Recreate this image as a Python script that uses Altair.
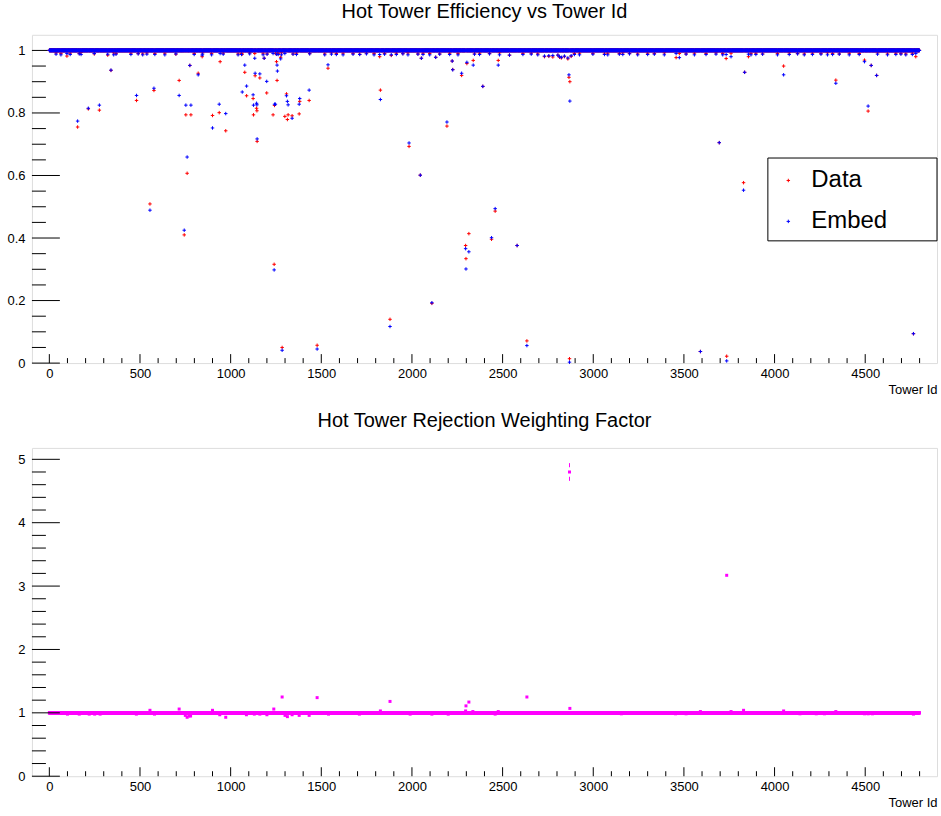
import altair as alt
import pandas as pd

alt.data_transformers.disable_max_rows()

FONT = "Liberation Sans"
N_TOWERS = 4800

# Towers whose efficiency is visibly below 1 (tower id, Data, Embed)
OUT_TOWER = [156, 215, 276, 340, 481, 555, 577, 716, 744, 753,
             760, 775, 781, 821, 843, 900, 937, 942, 973, 1064,
             1078, 1088, 1124, 1126, 1135, 1143, 1145, 1146, 1161, 1185,
             1199, 1234, 1240, 1242, 1247, 1253, 1256, 1258, 1276, 1284,
             1299, 1308, 1313, 1317, 1339, 1378, 1381, 1433, 1477, 1537,
             1826, 1879, 1984, 2046, 2052, 2110, 2131, 2193, 2222, 2225,
             2274, 2296, 2298, 2303, 2314, 2338, 2391, 2439, 2459, 2476,
             2538, 2580, 2634, 2866, 2869, 2871, 3591, 3695, 3736, 3829,
             3835, 4050, 4338, 4496, 4516, 4533, 4563, 4766, 4779]
OUT_DATA = [0.755, 0.813, 0.809, 0.936, 0.840, 0.509, 0.872, 0.904, 0.410, 0.794,
            0.607, 0.952, 0.794, 0.927, 0.980, 0.792, 0.801, 0.964, 0.743, 0.988,
            0.930, 0.855, 0.846, 0.794, 0.919, 0.815, 0.807, 0.709, 0.912, 0.975,
            0.864, 0.794, 0.316, 0.824, 0.990, 0.964, 0.904, 0.990, 0.978, 0.050,
            0.789, 0.861, 0.779, 0.794, 0.791, 0.797, 0.837, 0.840, 0.057, 0.943,
            0.873, 0.140, 0.693, 0.601, 0.975, 0.191, 0.978, 0.758, 0.966, 0.939,
            0.920, 0.376, 0.334, 0.958, 0.414, 0.968, 0.885, 0.396, 0.486, 0.968,
            0.985, 0.376, 0.071, 0.914, 0.014, 0.900, 0.037, 0.705, 0.022, 0.577,
            0.930, 0.950, 0.905, 0.969, 0.806, 0.952, 0.920, 0.094, 0.980]
OUT_EMBED = [0.774, 0.815, 0.825, 0.937, 0.856, 0.489, 0.879, 0.856, 0.425, 0.825,
             0.659, 0.952, 0.825, 0.922, 0.985, 0.752, 0.828, 0.990, 0.798, 0.867,
             0.953, 0.886, 0.858, 0.825, 0.927, 0.831, 0.826, 0.717, 0.925, 0.975,
             0.901, 0.990, 0.298, 0.828, 0.828, 0.988, 0.953, 0.934, 0.973, 0.041,
             0.990, 0.855, 0.837, 0.826, 0.783, 0.828, 0.846, 0.873, 0.045, 0.954,
             0.843, 0.117, 0.704, 0.601, 0.975, 0.193, 0.978, 0.771, 0.966, 0.938,
             0.927, 0.366, 0.301, 0.962, 0.356, 0.953, 0.885, 0.401, 0.494, 0.953,
             0.985, 0.376, 0.056, 0.922, 0.003, 0.838, 0.037, 0.705, 0.007, 0.553,
             0.930, 0.922, 0.895, 0.964, 0.822, 0.952, 0.920, 0.094, 0.990]

# Towers just under the band at 1
FUZZ_TOWER = [37, 64, 97, 115, 165, 175, 248, 322, 355, 368,
              450, 490, 515, 538, 582, 637, 698, 799, 845, 895,
              959, 1041, 1060, 1105, 1133, 1179, 1201, 1262, 1280, 1344,
              1363, 1436, 1519, 1556, 1583, 1620, 1675, 1712, 1749, 1791,
              1822, 1849, 1886, 1914, 1950, 1978, 2033, 2061, 2098, 2153,
              2208, 2254, 2345, 2373, 2428, 2483, 2612, 2658, 2694, 2731,
              2755, 2777, 2805, 2814, 2824, 2841, 2860, 2878, 2896, 2924,
              2998, 3062, 3080, 3144, 3163, 3200, 3245, 3300, 3337, 3392,
              3457, 3475, 3512, 3558, 3622, 3677, 3714, 3733, 3760, 3856,
              3870, 3897, 3934, 4016, 4081, 4127, 4164, 4209, 4256, 4292,
              4320, 4357, 4412, 4467, 4568, 4623, 4669, 4697, 4724, 4760]
FUZZ_DATA = [0.992, 0.990, 0.982, 0.991, 0.990, 0.993, 0.989, 0.985, 0.992, 0.990,
             0.991, 0.990, 0.989, 0.992, 0.990, 0.991, 0.988, 0.990, 0.992, 0.990,
             0.991, 0.989, 0.990, 0.992, 0.990, 0.991, 0.989, 0.990, 0.992, 0.989,
             0.991, 0.990, 0.989, 0.992, 0.990, 0.991, 0.990, 0.988, 0.991, 0.990,
             0.980, 0.990, 0.984, 0.991, 0.990, 0.992, 0.989, 0.991, 0.990, 0.989,
             0.991, 0.990, 0.989, 0.991, 0.990, 0.992, 0.990, 0.991, 0.989, 0.980,
             0.981, 0.979, 0.985, 0.978, 0.976, 0.980, 0.973, 0.981, 0.990, 0.991,
             0.990, 0.989, 0.991, 0.990, 0.992, 0.990, 0.989, 0.991, 0.990, 0.992,
             0.977, 0.990, 0.989, 0.991, 0.990, 0.992, 0.990, 0.974, 0.991, 0.980,
             0.990, 0.991, 0.989, 0.990, 0.992, 0.990, 0.989, 0.991, 0.990, 0.992,
             0.990, 0.989, 0.991, 0.990, 0.992, 0.989, 0.991, 0.990, 0.989, 0.991]
FUZZ_EMBED = [0.988, 0.986, 0.990, 0.987, 0.989, 0.987, 0.990, 0.988, 0.986, 0.988,
              0.987, 0.989, 0.986, 0.988, 0.987, 0.986, 0.989, 0.987, 0.988, 0.986,
              0.988, 0.986, 0.987, 0.989, 0.975, 0.986, 0.988, 0.987, 0.986, 0.988,
              0.987, 0.989, 0.986, 0.988, 0.987, 0.986, 0.988, 0.987, 0.989, 0.986,
              0.987, 0.988, 0.986, 0.987, 0.989, 0.986, 0.988, 0.987, 0.986, 0.988,
              0.987, 0.986, 0.988, 0.987, 0.989, 0.986, 0.987, 0.988, 0.986, 0.982,
              0.983, 0.984, 0.985, 0.980, 0.978, 0.982, 0.976, 0.983, 0.987, 0.986,
              0.988, 0.987, 0.986, 0.988, 0.987, 0.989, 0.986, 0.987, 0.988, 0.986,
              0.990, 0.977, 0.988, 0.986, 0.987, 0.988, 0.986, 0.987, 0.980, 0.988,
              0.986, 0.987, 0.988, 0.986, 0.987, 0.989, 0.986, 0.987, 0.988, 0.986,
              0.987, 0.988, 0.986, 0.987, 0.988, 0.986, 0.987, 0.988, 0.986, 0.987]

# Weighting factor for towers that are not at 1, with statistical errors
W_TOWER = [100, 165, 220, 250, 280, 480, 555, 580, 716, 750,
           760, 770, 779, 900, 940, 973, 1087, 1131, 1161, 1200,
           1238, 1284, 1300, 1313, 1339, 1378, 1433, 1477, 1540, 1710,
           1826, 1879, 1990, 2110, 2200, 2296, 2298, 2314, 2336, 2439,
           2459, 2476, 2634, 2869, 2871, 3155, 3454, 3512, 3591, 3736,
           3760, 3829, 3865, 3982, 4050, 4140, 4230, 4275, 4338, 4350,
           4496, 4516, 4540, 4766]
W_VALUE = [0.98, 0.98, 0.98, 0.98, 0.98, 0.98, 1.04, 0.98, 1.06, 0.96,
           0.93, 0.95, 0.95, 1.04, 0.97, 0.93, 0.97, 0.98, 0.98, 0.97,
           1.06, 1.25, 0.96, 0.94, 0.97, 0.96, 0.96, 1.24, 0.98, 0.98,
           1.03, 1.18, 0.98, 0.98, 0.98, 1.03, 1.11, 1.17, 1.02, 0.99,
           0.98, 1.02, 1.25, 4.80, 1.07, 0.985, 0.985, 0.985, 1.02, 3.17,
           1.02, 1.04, 0.99, 0.99, 1.03, 0.985, 0.985, 0.985, 1.02, 0.99,
           0.985, 0.985, 0.985, 0.98]
W_ERR = [0.01, 0.01, 0.01, 0.01, 0.01, 0.01, 0.02, 0.01, 0.02, 0.02,
         0.02, 0.02, 0.02, 0.02, 0.01, 0.02, 0.01, 0.01, 0.01, 0.01,
         0.02, 0.03, 0.01, 0.01, 0.01, 0.01, 0.01, 0.03, 0.01, 0.01,
         0.01, 0.03, 0.01, 0.01, 0.01, 0.01, 0.02, 0.02, 0.01, 0.01,
         0.01, 0.01, 0.03, 0.14, 0.01, 0.01, 0.01, 0.01, 0.01, 0.04,
         0.01, 0.01, 0.01, 0.01, 0.01, 0.01, 0.01, 0.01, 0.01, 0.01,
         0.01, 0.01, 0.01, 0.01]

# Axis tick positions
X_MAJOR = [0, 500, 1000, 1500, 2000, 2500, 3000, 3500, 4000, 4500]
X_MINOR = [t for t in range(100, 4900, 100) if t % 500]
EFF_MAJOR = [0, 0.2, 0.4, 0.6, 0.8, 1.0]
EFF_MINOR = [round(0.05 * k, 2) for k in range(1, 21) if k % 4]
W_MAJOR = [0, 1, 2, 3, 4, 5]
W_MINOR = [round(0.2 * k, 1) for k in range(1, 26) if k % 5]

W, H = 907, 329
MAJOR_Y_LEN, MINOR_Y_LEN = 28, 14
MAJOR_X_LEN, MINOR_X_LEN = 9, 5
ERR_GAP = 0.075
PLUS = "M-1,0H1M0,-1V1"

# legend frame, in pixels inside the efficiency panel
LEG_X0, LEG_X1, LEG_Y0, LEG_Y1 = 737.5, 907, 123.5, 206.5

# ---- per-tower tables ----
data_eff = [1.0] * N_TOWERS
embed_eff = [1.0] * N_TOWERS
for t, d, e in zip(FUZZ_TOWER + OUT_TOWER, FUZZ_DATA + OUT_DATA, FUZZ_EMBED + OUT_EMBED):
    data_eff[t] = d
    embed_eff[t] = e

towers = list(range(N_TOWERS))
eff_df = pd.concat([
    pd.DataFrame({"tower": towers, "eff": data_eff, "series": "Data"}),
    pd.DataFrame({"tower": towers, "eff": embed_eff, "series": "Embed"}),
], ignore_index=True)

weight = [1.0] * N_TOWERS
for t, v in zip(W_TOWER, W_VALUE):
    weight[t] = v
w_df = pd.DataFrame({"tower": towers, "w": weight})

err_df = pd.DataFrame({"tower": W_TOWER, "w": W_VALUE, "err": W_ERR})
err_df = err_df[err_df["err"] > ERR_GAP]
err_seg = pd.concat([
    pd.DataFrame({"tower": err_df["tower"], "a": err_df["w"] + ERR_GAP, "b": err_df["w"] + err_df["err"]}),
    pd.DataFrame({"tower": err_df["tower"], "a": err_df["w"] - err_df["err"], "b": err_df["w"] - ERR_GAP}),
], ignore_index=True)

# ---- scales and axes ----
x_scale = alt.Scale(domain=[-96, 4896], nice=False, zero=False)
eff_scale = alt.Scale(domain=[0, 1.05], nice=False, zero=False)
w_scale = alt.Scale(domain=[0, 5.18], nice=False, zero=False)

x_axis = alt.Axis(values=X_MAJOR, format="d", ticks=False, tickSize=0, domain=False, grid=False,
                  labelFont=FONT, labelFontSize=13, labelColor="black", labelPadding=4,
                  labelFlush=False, labelOverlap=False,
                  title="Tower Id", titleFont=FONT, titleFontSize=13, titleFontWeight="normal",
                  titleColor="black", titleAnchor="end", titleAlign="right",
                  titleBaseline="alphabetic", titleX=W, titleY=30)


def y_axis(values):
    return alt.Axis(values=values, format="~g", ticks=False, tickSize=0, domain=False, grid=False,
                    labelFont=FONT, labelFontSize=13, labelColor="black", labelPadding=7,
                    labelFlush=False, labelOverlap=False, minExtent=31, maxExtent=31, title=None)


def tick_layers(y_field_scale, y_ax, major, minor):
    layers = []
    for vals, ln in ((major, MAJOR_Y_LEN), (minor, MINOR_Y_LEN)):
        layers.append(
            alt.Chart(pd.DataFrame({"v": vals})).mark_rule(color="black", strokeWidth=1).encode(
                y=alt.Y("v:Q", scale=y_field_scale, axis=y_ax),
                x=alt.value(0), x2=alt.value(ln)))
    for vals, ln in ((X_MAJOR, MAJOR_X_LEN), (X_MINOR, MINOR_X_LEN)):
        layers.append(
            alt.Chart(pd.DataFrame({"v": vals})).mark_rule(color="black", strokeWidth=1).encode(
                x=alt.X("v:Q", scale=x_scale, axis=x_axis),
                y=alt.value(H), y2=alt.value(H - ln)))
    return layers


def title(text, offset, dy=0):
    return alt.TitleParams(text, font=FONT, fontSize=20, fontWeight="normal", color="black",
                           anchor="middle", baseline="alphabetic", offset=offset, dy=dy,
                           frame="group")


# ---- efficiency panel ----
eff_axis = y_axis(EFF_MAJOR)
legend = alt.Legend(title=None, orient="none", legendX=737, legendY=125, padding=9,
                    labelFont=FONT, labelFontSize=24, labelColor="black",
                    symbolType=PLUS, symbolSize=12, symbolStrokeWidth=1,
                    symbolOffset=0, labelOffset=11, rowPadding=17)

eff_points = alt.Chart(eff_df).mark_point(shape=PLUS, filled=False, size=12, strokeWidth=1,
                                          opacity=1).encode(
    x=alt.X("tower:Q", scale=x_scale, axis=x_axis),
    y=alt.Y("eff:Q", scale=eff_scale, axis=eff_axis),
    color=alt.Color("series:N", scale=alt.Scale(domain=["Data", "Embed"],
                                                range=["#ff0000", "#0000ff"]), legend=legend),
)

legend_frame = alt.Chart(pd.DataFrame({"k": [0]})).mark_rect(
    fill="white", stroke="black", strokeWidth=1).encode(
    x=alt.value(LEG_X0), x2=alt.value(LEG_X1), y=alt.value(LEG_Y0), y2=alt.value(LEG_Y1))

top = alt.layer(*tick_layers(eff_scale, eff_axis, EFF_MAJOR, EFF_MINOR),
                eff_points, legend_frame).properties(
    width=W, height=H, title=title("Hot Tower Efficiency vs Tower Id", 2, dy=5))

# ---- weighting factor panel ----
w_axis = y_axis(W_MAJOR)
w_points = alt.Chart(w_df).mark_square(size=9, color="#ff00ff", opacity=1).encode(
    x=alt.X("tower:Q", scale=x_scale, axis=x_axis),
    y=alt.Y("w:Q", scale=w_scale, axis=w_axis),
)
w_err = alt.Chart(err_seg).mark_rule(color="#ff00ff", strokeWidth=1).encode(
    x=alt.X("tower:Q", scale=x_scale, axis=x_axis),
    y=alt.Y("a:Q", scale=w_scale, axis=w_axis),
    y2="b:Q",
)

bottom = alt.layer(w_err, w_points, *tick_layers(w_scale, w_axis, W_MAJOR, W_MINOR)).properties(
    width=W, height=H, title=title("Hot Tower Rejection Weighting Factor", 1))

chart = alt.vconcat(top, bottom, spacing=85, bounds="flush").resolve_scale(
    color="independent").resolve_legend(color="independent").properties(
    padding={"left": 0, "top": 0, "right": 3, "bottom": 4},
    background="white",
).configure_view(stroke="black", strokeWidth=1).configure(font=FONT)

chart.save("out.html", embed_options={"renderer": "svg", "actions": False})
